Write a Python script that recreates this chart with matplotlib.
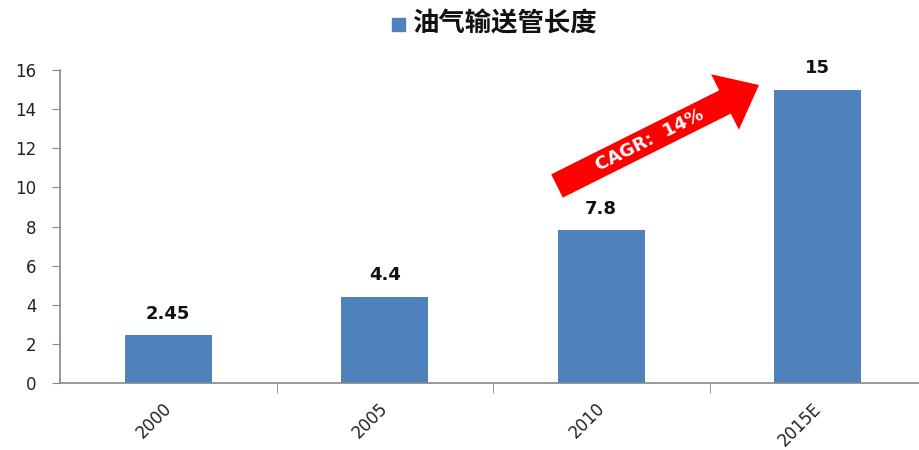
import numpy as np
import matplotlib
matplotlib.use("Agg")
import matplotlib.pyplot as plt
from matplotlib.patches import Polygon, Rectangle
from matplotlib.transforms import ScaledTranslation

plt.rcParams['font.family'] = ['Noto Sans CJK SC', 'DejaVu Sans']

years = ['2000', '2005', '2010', '2015E']
lengths = [2.45, 4.4, 7.8, 15]
value_labels = ['2.45', '4.4', '7.8', '15']
series_name = '油气输送管长度'
cagr_text = 'CAGR:  14%'

W, H = 920, 450
fig = plt.figure(figsize=(W / 100, H / 100), dpi=100)
ax = fig.add_axes([60 / W, (H - 383) / H, 866 / W, 313 / H])

x = np.arange(len(years))
ax.bar(x, lengths, width=0.4, color='#4F81BD', zorder=2)
for xi, v, s in zip(x, lengths, value_labels):
    ax.annotate(s, (xi, v), xytext=(0, 9), textcoords='offset points',
                ha='center', va='bottom', fontsize=13, fontweight='bold',
                family='DejaVu Sans', color='#111111')

ax.set_xlim(-0.5, len(years) - 0.5)
ax.set_ylim(0, 16)
ax.set_yticks(range(0, 17, 2))
ax.tick_params(axis='y', labelsize=12, labelcolor='#222222', color='#868686',
               length=6, direction='out', pad=11)
for lab in ax.get_yticklabels():
    lab.set_family('DejaVu Sans')

# category labels sit at bar centres, tick marks at category boundaries
ax.set_xticks(x)
ax.set_xticklabels(years, rotation=45, ha='right', va='top',
                   rotation_mode='anchor', fontsize=12, color='#222222',
                   family='DejaVu Sans')
ax.tick_params(axis='x', length=0, pad=12)
shift = ScaledTranslation(-6 / 100, 0, fig.dpi_scale_trans)
for lab in ax.get_xticklabels():
    lab.set_transform(lab.get_transform() + shift)
ax.set_xticks(np.arange(0.5, len(years) - 0.5, 1), minor=True)
ax.tick_params(axis='x', which='minor', length=7, color='#868686')

for side in ('top', 'right'):
    ax.spines[side].set_visible(False)
for side in ('left', 'bottom'):
    ax.spines[side].set_color('#868686')
    ax.spines[side].set_linewidth(1.2)

# legend entry on top
fig.patches.append(Rectangle((392 / W, 1 - 31 / H), 13 / W, 13 / H,
                             transform=fig.transFigure, color='#4F81BD'))
fig.text(412 / W, 1 - 24 / H, series_name, fontsize=19, fontweight='bold',
         va='center', ha='left', color='#111111')

# red growth arrow, built in pixel space then mapped to figure fraction
start = np.array([557.0, 186.0])
tip = np.array([759.0, 85.0])
d = tip - start
L = np.hypot(*d)
u = d / L
n = np.array([-u[1], u[0]])
shaft_hw, head_hw, head_len = 13.0, 31.0, 38.0
neck = tip - u * head_len
pts = [start + n * shaft_hw, neck + n * shaft_hw, neck + n * head_hw, tip,
       neck - n * head_hw, neck - n * shaft_hw, start - n * shaft_hw]
pts = [(p[0] / W, 1 - p[1] / H) for p in pts]
fig.patches.append(Polygon(pts, closed=True, transform=fig.transFigure,
                           facecolor='#FF0000', edgecolor='none'))
angle = np.degrees(np.arctan2(-d[1], d[0]))
mid = start + u * (L - head_len) * 0.55
fig.text(mid[0] / W, 1 - mid[1] / H, cagr_text, rotation=angle,
         rotation_mode='anchor', ha='center', va='center', fontsize=13,
         fontweight='bold', color='white', family='DejaVu Sans')

fig.savefig('out.png', dpi=100)
